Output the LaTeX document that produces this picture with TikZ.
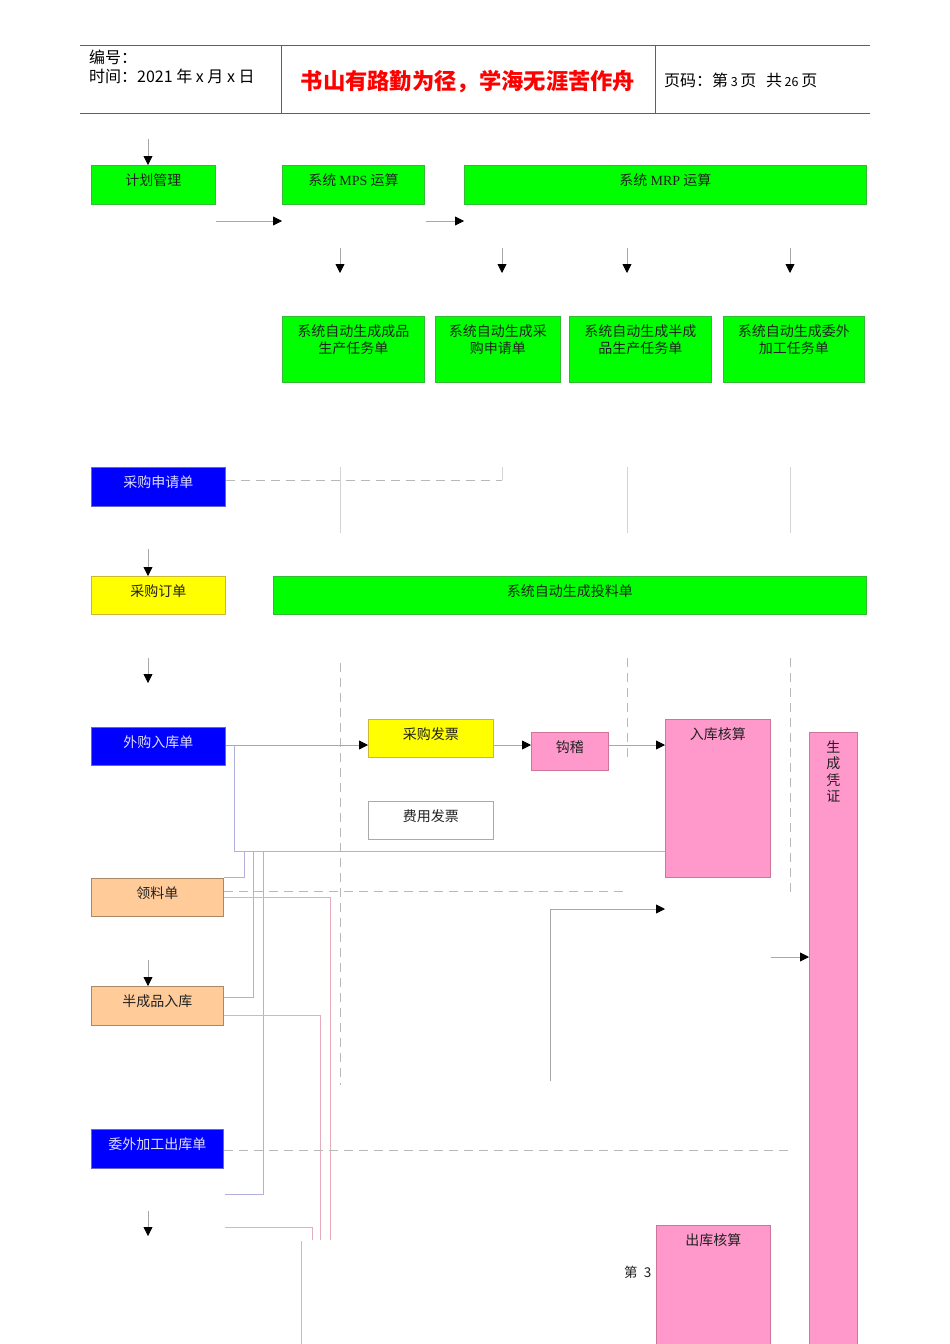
\documentclass[tikz,border=0pt]{standalone}
\usepackage{fontspec}
\setmainfont{Liberation Serif}
\newfontfamily\cjk{Noto Sans CJK SC}
\usetikzlibrary{arrows.meta}
\definecolor{gfill}{HTML}{00FF00}
\definecolor{gline}{HTML}{33BB33}
\definecolor{bfill}{HTML}{0000FF}
\definecolor{bline}{HTML}{6666CC}
\definecolor{blight}{HTML}{DDDDFF}
\definecolor{yfill}{HTML}{FFFF00}
\definecolor{yline}{HTML}{CCB833}
\definecolor{pfill}{HTML}{FF99CC}
\definecolor{pline}{HTML}{CC7799}
\definecolor{ofill}{HTML}{FFCC99}
\definecolor{oline}{HTML}{A88868}
\definecolor{tdark}{HTML}{222222}
\definecolor{cgray}{HTML}{A8A8A8}
\definecolor{dgray}{HTML}{B8B8B8}
\definecolor{lgray}{HTML}{D4D4D4}
\definecolor{lavc}{HTML}{B0B0DA}
\definecolor{pnkc}{HTML}{E8ACBA}
\definecolor{hline}{HTML}{606060}
\begin{document}
\begin{tikzpicture}[x=1pt,y=-1pt,
  box/.style={draw, rectangle, inner sep=0pt, anchor=north west, line width=0.8pt},
  gbox/.style={box, fill=gfill, draw=gline},
  bbox/.style={box, fill=bfill, draw=bline},
  ybox/.style={box, fill=yfill, draw=yline},
  pbox/.style={box, fill=pfill, draw=pline},
  obox/.style={box, fill=ofill, draw=oline},
  wbox/.style={box, fill=white, draw=lgray!80!black},
  txt/.style={anchor=north, inner sep=0pt, yshift=-8.5pt, font=\cjk\fontsize{14}{16.5}\selectfont, text=tdark, align=center},
  wtxt/.style={txt, text=blight},
  hfont/.style={anchor=west, inner sep=0pt, font=\cjk\fontsize{16}{18}\selectfont, text=black},
  conn/.style={draw=cgray, line width=0.8pt},
  arr/.style={conn, -{Triangle[length=9pt,width=9pt,color=black]}},
  dsh/.style={draw=dgray, line width=0.8pt, dash pattern=on 9pt off 6pt},
  lav/.style={draw=lavc, line width=0.7pt},
  pnk/.style={draw=pnkc, line width=0.7pt}]
\useasboundingbox (0,0) rectangle (950,1344);
\fill[white] (0,0) rectangle (950,1344);
\clip (0,0) rectangle (950,1344);

% header
\draw[hline, line width=0.9pt] (80,45) -- (870,45);
\draw[hline, line width=0.9pt] (80,113) -- (870,113);
\draw[hline, line width=0.9pt] (281,45) -- (281,113);
\draw[hline, line width=0.9pt] (655,45) -- (655,113);
\node[hfont] (bh) at (89,57) {编号：};
\node[hfont] (sj) at (89,76) {时间：2021 年 x 月 x 日};
\node[inner sep=0pt, font=\cjk\fontsize{22.3}{24}\selectfont\bfseries, text=red] (tt) at (468,82) {书山有路勤为径，学海无涯苦作舟};
\node[hfont] (ym) at (664,80) {页码：第\,{\fontsize{12.5}{12}\selectfont 3}\,页\hspace{0.6em}共\,{\fontsize{12.5}{12}\selectfont 26}\,页};

% boxes
\node[gbox, minimum width=124pt, minimum height=39pt, label={[txt]north:计划管理}] (jh) at (91,165) {};
\node[gbox, minimum width=142pt, minimum height=39pt, label={[txt]north:系统 {\rmfamily MPS} 运算}] (mps) at (282,165) {};
\node[gbox, minimum width=402pt, minimum height=39pt, label={[txt]north:系统 {\rmfamily MRP} 运算}] (mrp) at (464,165) {};
\node[gbox, minimum width=142pt, minimum height=66pt, label={[txt]north:系统自动生成成品\\生产任务单}] (r1) at (282,316) {};
\node[gbox, minimum width=125pt, minimum height=66pt, label={[txt]north:系统自动生成采\\购申请单}] (r2) at (435,316) {};
\node[gbox, minimum width=142pt, minimum height=66pt, label={[txt]north:系统自动生成半成\\品生产任务单}] (r3) at (569,316) {};
\node[gbox, minimum width=141pt, minimum height=66pt, label={[txt]north:系统自动生成委外\\加工任务单}] (r4) at (723,316) {};
\node[bbox, minimum width=134pt, minimum height=39pt, label={[wtxt]north:采购申请单}] (sq) at (91,467) {};
\node[ybox, minimum width=134pt, minimum height=38pt, label={[txt]north:采购订单}] (dd) at (91,576) {};
\node[gbox, minimum width=593pt, minimum height=38pt, label={[txt]north:系统自动生成投料单}] (tl) at (273,576) {};
\node[bbox, minimum width=134pt, minimum height=38pt, label={[wtxt]north:外购入库单}] (wg) at (91,727) {};
\node[ybox, minimum width=125pt, minimum height=38pt, label={[txt]north:采购发票}] (fp) at (368,719) {};
\node[pbox, minimum width=77pt, minimum height=38pt, label={[txt]north:钩稽}] (gj) at (531,732) {};
\node[pbox, minimum width=105pt, minimum height=158pt, label={[txt]north:入库核算}] (rk) at (665,719) {};
\node[pbox, minimum width=48pt, minimum height=640pt, label={[txt]north:生\\成\\凭\\证}] (pz) at (809,732) {};
\node[wbox, minimum width=125pt, minimum height=38pt, label={[txt]north:费用发票}] (fy) at (368,801) {};
\node[obox, minimum width=132pt, minimum height=38pt, label={[txt]north:领料单}] (ll) at (91,878) {};
\node[obox, minimum width=132pt, minimum height=39pt, label={[txt]north:半成品入库}] (bc) at (91,986) {};
\node[bbox, minimum width=132pt, minimum height=39pt, label={[wtxt]north:委外加工出库单}] (ww) at (91,1129) {};
\node[pbox, minimum width=114pt, minimum height=140pt, label={[txt]north:出库核算}] (ck) at (656,1225) {};
\node[anchor=west, inner sep=0pt, font=\cjk\fontsize{13.5}{15}\selectfont, text=tdark] (pg) at (624,1272) {第\hspace{0.45em}3};

% connectors
\draw[arr] (148,139) -- (148,0 |- jh.north);
\draw[arr] (jh.east |- 0,221) -- (mps.west |- 0,221);
\draw[arr] (426,221) -- (mrp.west |- 0,221);
\foreach \xx in {340,502,627,790} \draw[arr] (\xx,248) -- (\xx,273);
\foreach \xx in {340,627,790} \draw[draw=lgray, line width=0.8pt] (\xx,467) -- (\xx,533);
\draw[dsh] (sq.east |- 0,480) -- (502,480);
\draw[draw=lgray, line width=0.8pt] (502,467) -- (502,480);
\draw[arr] (148,549) -- (148,0 |- dd.north);
\draw[arr] (148,658) -- (148,683);
\draw[dsh] (340,663) -- (340,1085);
\draw[dsh] (627,658) -- (627,760);
\draw[dsh] (790,658) -- (790,892);
\draw[arr] (wg.east |- 0,745) -- (fp.west |- 0,745);
\draw[arr] (fp.east |- 0,745) -- (gj.west |- 0,745);
\draw[arr] (gj.east |- 0,745) -- (rk.west |- 0,745);
\draw[lav] (234,745) -- (234,851) -- (rk.west |- 0,851);
\draw[lav] (244,851) -- (244,877) -- (ll.east |- 0,877);
\draw[lav] (253,851) -- (253,997) -- (bc.east |- 0,997);
\draw[lav] (263,851) -- (263,1194) -- (225,1194);
\draw[pnk] (ll.east |- 0,897) -- (330,897) -- (330,1240);
\draw[pnk] (bc.east |- 0,1015) -- (320,1015) -- (320,1240);
\draw[pnk] (225,1227) -- (312,1227) -- (312,1240);
\draw[pnk] (301,1241) -- (301,1344);
\draw[dsh] (ll.east |- 0,891) -- (627,891);
\draw[dsh] (ww.east |- 0,1150) -- (790,1150);
\draw[arr] (148,960) -- (148,0 |- bc.north);
\draw[arr] (148,1211) -- (148,1236);
\draw[arr] (550,1081) -- (550,909) -- (rk.west |- 0,909);
\draw[arr] (rk.east |- 0,957) -- (pz.west |- 0,957);
\end{tikzpicture}
\end{document}
